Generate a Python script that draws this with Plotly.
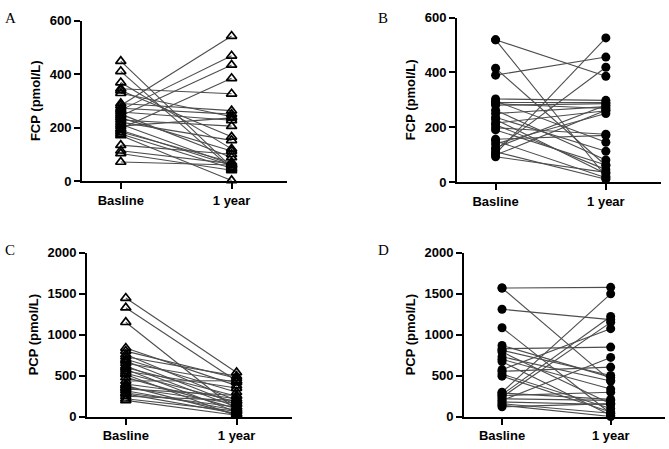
import plotly.graph_objects as go

categories = ["Basline", "1 year"]

# FCP, panel A (triangles)
fcp_a_base = [448, 410, 368, 345, 338, 328, 290, 282, 272, 265, 258, 250, 243, 236, 228, 220, 212, 205, 196, 190,
              183, 176, 170, 134, 113, 103, 71]
fcp_a_year = [52, 45, 120, 326, 165, 240, 263, 542, 250, 468, 227, 88, 434, 112, 205, 152, 62, 236, 384, 58,
              70, 48, 2, 100, 65, 40, 60]

# FCP, panel B (circles)
fcp_b_base = [519, 519, 415, 390, 303, 295, 290, 286, 280, 262, 250, 236, 228, 215, 209, 198, 190, 156, 150, 139,
              125, 119, 110, 103, 98, 92]
fcp_b_year = [386, 20, 60, 456, 298, 145, 290, 268, 286, 80, 275, 112, 30, 260, 45, 174, 62, 170, 15, 250,
              280, 419, 10, 526, 262, 35]

# PCP, panel C (triangles)
pcp_c_base = [1446, 1328, 1151, 837, 800, 760, 731, 700, 680, 652, 620, 601, 580, 554, 530, 515, 480, 436, 400, 380,
              358, 340, 318, 290, 279, 250, 220, 200]
pcp_c_year = [540, 436, 83, 380, 470, 200, 495, 300, 150, 420, 120, 250, 60, 350, 180, 10, 100, 440, 220, 30,
              160, 260, 80, 120, 40, 200, 70, 20]

# PCP, panel D (circles)
pcp_d_base = [1568, 1568, 1309, 1085, 869, 829, 810, 790, 731, 700, 672, 574, 554, 520, 495, 299, 290, 270, 259, 240,
              220, 200, 181, 160, 141, 122]
pcp_d_year = [1576, 440, 1183, 40, 480, 849, 503, 160, 436, 338, 20, 1073, 605, 102, 60, 1497, 212, 1222, 300, 1150,
              200, 723, 150, 43, 4, 161]

W, H = 669, 449
panels = [
    # letter, base, year, symbol, ytitle, ymax, tick step, x0, x1, ytop, ybottom (px)
    ("A", fcp_a_base, fcp_a_year, "triangle-up-open", "FCP (pmol/L)", 600, 200, 82, 287, 14, 180),
    ("B", fcp_b_base, fcp_b_year, "circle", "FCP (pmol/L)", 600, 200, 457, 661, 11, 181),
    ("C", pcp_c_base, pcp_c_year, "triangle-up-open", "PCP (pmol/L)", 2000, 500, 87, 292, 254, 424),
    ("D", pcp_d_base, pcp_d_year, "circle", "PCP (pmol/L)", 2000, 500, 464, 665, 254, 424),
]
letter_pos = {"A": (3, 11), "B": (376, 11), "C": (3, 251), "D": (376, 251)}

fig = go.Figure()
bold = dict(family="Liberation Sans, Arial", size=13, color="black", weight="bold")

for i, (letter, base, year, sym, ytitle, ymax, step, x0, x1, ytop, ybot) in enumerate(panels):
    n = i + 1
    xa = "x" if n == 1 else f"x{n}"
    ya = "y" if n == 1 else f"y{n}"

    lx, ly = [], []
    for b, y in zip(base, year):
        lx += [categories[0], categories[1], None]
        ly += [b, y, None]
    fig.add_trace(go.Scatter(x=lx, y=ly, mode="lines", line=dict(color="#4d4d4d", width=1.1),
                             xaxis=xa, yaxis=ya, showlegend=False, hoverinfo="skip", cliponaxis=False))
    fig.add_trace(go.Scatter(x=[categories[0]] * len(base) + [categories[1]] * len(year), y=base + year,
                             mode="markers", xaxis=xa, yaxis=ya, showlegend=False, cliponaxis=False,
                             marker=dict(symbol=sym, size=9, color="black",
                                         line=dict(color="black", width=1.7 if "open" in sym else 0))))

    xkey = "xaxis" if n == 1 else f"xaxis{n}"
    ykey = "yaxis" if n == 1 else f"yaxis{n}"
    fig.update_layout({
        xkey: dict(domain=[x0 / W, x1 / W], anchor=ya, type="category", categoryorder="array",
                   categoryarray=categories, range=[-0.35, 1.5], showline=True, linecolor="black",
                   linewidth=2, ticks="outside", ticklen=6, tickwidth=2, tickcolor="black",
                   showgrid=False, zeroline=False, tickfont=bold),
        ykey: dict(domain=[1 - ybot / H, 1 - ytop / H], anchor=xa, range=[0, ymax],
                   tickvals=list(range(0, ymax + 1, step)), showline=True, linecolor="black",
                   linewidth=2, ticks="outside", ticklen=6, tickwidth=2, tickcolor="black",
                   showgrid=False, zeroline=False, tickfont=bold,
                   title=dict(text=ytitle, font=bold, standoff=6)),
    })
    px, py = letter_pos[letter]
    fig.add_annotation(text=letter, x=px / W, y=1 - py / H, xref="paper", yref="paper",
                       xanchor="left", yanchor="middle", showarrow=False,
                       font=dict(family="Liberation Serif, Times New Roman", size=15, color="black"))

fig.update_layout(width=W, height=H, margin=dict(l=0, r=0, t=0, b=0),
                  plot_bgcolor="white", paper_bgcolor="white")

# the page body has a default 8px margin; drop it so the figure fills the window
fig.write_html("out.html", config={"displayModeBar": False},
               post_script="document.body.style.margin = '0';")
